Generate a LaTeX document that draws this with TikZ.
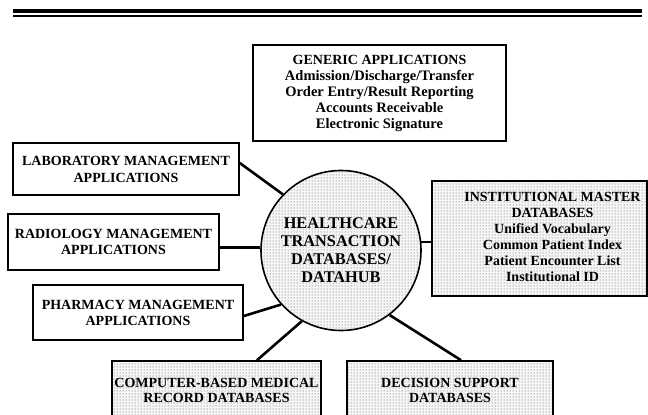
\documentclass[tikz,border=0pt]{standalone}
\usepackage{fontspec}
\setmainfont{Liberation Serif}
\usetikzlibrary{patterns,calc}
\begin{document}
\begin{tikzpicture}[x=1pt,y=-1pt,
  box/.style={draw, line width=1.6pt, rectangle, align=center, inner sep=0pt,
    font=\bfseries\fontsize{14}{16}\selectfont},
  appbox/.style={box, fill=white},
  dotfill/.style={preaction={fill=black!3}, pattern=dots, pattern color=black!70},
  dbbox/.style={box, dotfill},
  link/.style={line width=2.6pt},
  rulethick/.style={line width=4pt},
  rulethin/.style={line width=1.3pt}]
\path[use as bounding box, fill=white] (0,0) rectangle (648,415);
\clip (0,0) rectangle (648,415);
% top double rule
\draw[rulethick] (13,11) -- (642,11);
\draw[rulethin] (13,16) -- (642,16);
% nodes
\node[appbox, minimum width=253pt, minimum height=96pt] (gen) at (379.5,93)
  {GENERIC APPLICATIONS\\
   {\fontsize{14.5}{16}\selectfont Admission/Discharge/Transfer}\\
   {\fontsize{14.5}{16}\selectfont Order Entry/Result Reporting}\\
   {\fontsize{14.5}{16}\selectfont Accounts Receivable}\\
   {\fontsize{14.5}{16}\selectfont Electronic Signature}};
\node[appbox, minimum width=226pt, minimum height=52pt] (lab) at (126,169)
  {LABORATORY MANAGEMENT\\[1pt] APPLICATIONS};
\node[appbox, minimum width=211pt, minimum height=56pt] (rad) at (113.5,242)
  {RADIOLOGY MANAGEMENT\\ APPLICATIONS};
\node[appbox, minimum width=210pt, minimum height=55pt] (pharm) at (138,312.5)
  {PHARMACY MANAGEMENT\\ APPLICATIONS};
\node[dbbox, minimum width=215pt, minimum height=115pt] (inst) at (539.5,238.5)
  {\hspace*{26pt}\begin{tabular}{@{}c@{}}INSTITUTIONAL MASTER\\ DATABASES\\ Unified Vocabulary\\
   Common Patient Index\\ Patient Encounter List\\ Institutional ID\end{tabular}};
\node[dbbox, minimum width=209pt, minimum height=59pt] (comp) at (216.5,390.5)
  {COMPUTER-BASED MEDICAL\\[-1pt] RECORD DATABASES};
\node[dbbox, minimum width=206pt, minimum height=59pt] (dec) at (450,390.5)
  {DECISION SUPPORT\\[-1pt] DATABASES};
\node[box, circle, minimum size=160pt, dotfill,
  font=\bfseries\fontsize{16.3}{18}\selectfont] (hub) at (341,250.5)
  {HEALTHCARE\\ TRANSACTION\\ DATABASES/\\ DATAHUB};
% connectors
\draw[link] ([yshift=6pt]lab.east) -- (hub.136);
\draw[link] (hub.178) -- (hub.178 -| rad.east);
\draw[link] ([yshift=-3.5pt]pharm.east) -- (hub.222);
\draw[link] (hub.6) -- (hub.6 -| inst.west);
\draw[link] ($(comp.north)+(40.5,0)$) -- (hub.241);
\draw[link] ($(dec.north)+(11,0)$) -- (hub.307);
\end{tikzpicture}
\end{document}
